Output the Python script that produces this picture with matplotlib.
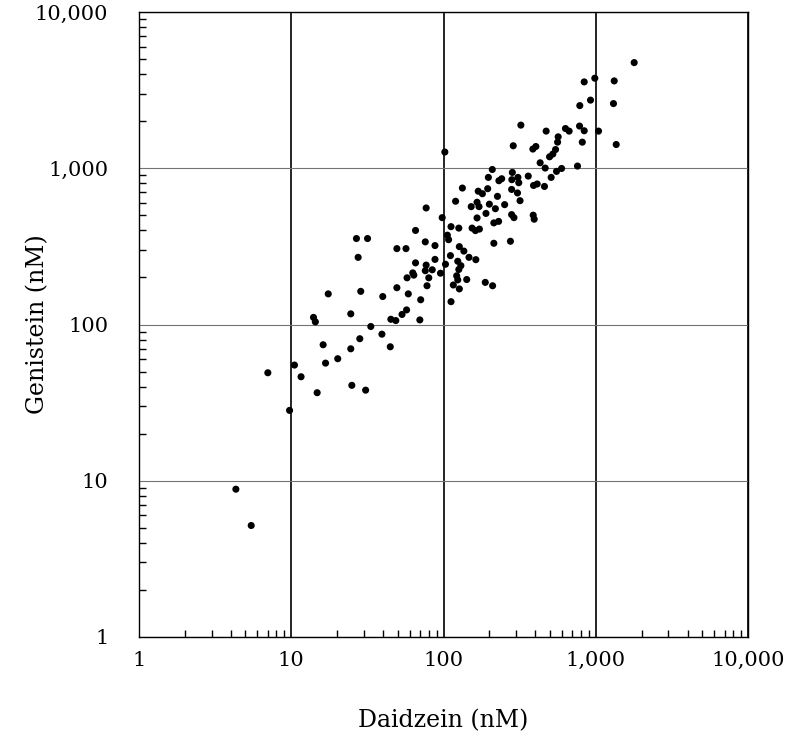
import matplotlib
matplotlib.use('Agg')
import matplotlib.pyplot as plt
from matplotlib.ticker import LogLocator, NullFormatter

# values (nM)
daidzein = [
    1786, 985, 839, 1321, 923, 785, 1306, 322, 782, 839,
    632, 668, 472, 1042, 566, 561, 815, 1361, 287, 404,
    386, 544, 522, 497, 431, 465, 596, 552, 758, 209,
    509, 283, 197, 241, 231, 308, 360, 281, 312, 412,
    390, 460, 280, 195, 180, 306, 226, 318, 200, 252,
    219, 190, 280, 290, 388, 394, 214, 230,
    169, 133, 152, 166, 171, 166, 154, 162, 172,
    76.9, 120, 102, 98, 112, 126, 65.5, 106, 108, 75.9,
    87.9, 56.7, 49.4, 214, 275, 127, 136, 111, 147, 163,
    87.9, 65.5, 103, 124, 130, 126, 76.9, 75.9, 84.3, 62.8,
    63.8, 57.6, 95.5, 80.0, 122, 124, 142, 188, 210, 77.9,
    116, 127, 49.4, 58.7, 70.8, 112, 57.2, 53.4, 69.9,
    26.8, 31.7, 27.5, 17.5, 28.6, 39.9, 24.6, 14.0, 14.4, 45.1,
    48.6, 33.3, 39.4, 28.2, 16.2, 24.6, 44.7, 20.2, 16.8, 10.5,
    7.02, 11.6, 25.0, 30.8, 14.8, 9.75, 4.33, 5.46,
]
genistein = [
    4745, 3770, 3570, 3623, 2729, 2518, 2594, 1888, 1862, 1738,
    1796, 1729, 1729, 1729, 1589, 1469, 1469, 1419, 1393, 1378,
    1327, 1318, 1233, 1184, 1084, 1003, 997, 955, 1033, 982,
    874, 940, 874, 857, 832, 874, 891, 845, 808, 793,
    776, 765, 732, 740, 687, 695, 661, 620, 589, 585,
    551, 514, 505, 483, 501, 472, 447, 457,
    713, 747, 568, 606, 568, 481, 414, 399, 408,
    557, 615, 1270, 483, 423, 414, 400, 373, 349, 338,
    320, 306, 306, 331, 341, 315, 295, 276, 269, 260,
    261, 248, 243, 254, 238, 225, 240, 221, 224, 214,
    207, 199, 213, 199, 205, 193, 194, 186, 177, 177,
    179, 169, 172, 157, 144, 140, 124, 116, 107,
    355, 355, 269, 157, 163, 151, 117, 111, 104, 108,
    106, 97.1, 86.7, 81.1, 74.2, 69.9, 72.0, 60.4, 56.6, 55.0,
    49.1, 46.3, 40.8, 38.0, 36.6, 28.2, 8.83, 5.17,
]

tick_values = [1, 10, 100, 1000, 10000]
tick_labels = ["1", "10", "100", "1,000", "10,000"]

plt.rcParams['font.family'] = ['DejaVu Serif']

fig = plt.figure(figsize=(7.85, 7.37), dpi=100)
ax = fig.add_axes([0.177, 0.1357, 0.776, 0.848])

ax.scatter(daidzein, genistein, s=26, color='black', edgecolors='none', zorder=3)

ax.set_xscale('log')
ax.set_yscale('log')
ax.set_xlim(1, 10000)
ax.set_ylim(1, 10000)

ax.set_xticks(tick_values)
ax.set_xticklabels(tick_labels)
ax.set_yticks(tick_values)
ax.set_yticklabels(tick_labels)

ax.xaxis.set_minor_locator(LogLocator(base=10, subs=range(2, 10)))
ax.yaxis.set_minor_locator(LogLocator(base=10, subs=range(2, 10)))
ax.xaxis.set_minor_formatter(NullFormatter())
ax.yaxis.set_minor_formatter(NullFormatter())

ax.tick_params(which='major', length=0, labelsize=15)
ax.tick_params(axis='x', which='major', pad=10)
ax.tick_params(axis='y', which='major', pad=22)
ax.tick_params(which='minor', direction='in', length=5, width=1, color='black')

# vertical lines are dark, horizontal ones lighter
ax.xaxis.grid(True, which='major', color='black', linewidth=1.2)
ax.yaxis.grid(True, which='major', color='0.45', linewidth=0.8)
ax.set_axisbelow(True)

for sp in ax.spines.values():
    sp.set_color('black')
    sp.set_linewidth(1.0)

ax.set_xlabel("Daidzein (nM)", fontsize=17, labelpad=28)
ax.set_ylabel("Genistein (nM)", fontsize=17)
# y label sits closer to the tick labels than matplotlib puts it
ax.yaxis.set_label_coords(-0.148, 0.5)

fig.savefig('out.png', dpi=100)
